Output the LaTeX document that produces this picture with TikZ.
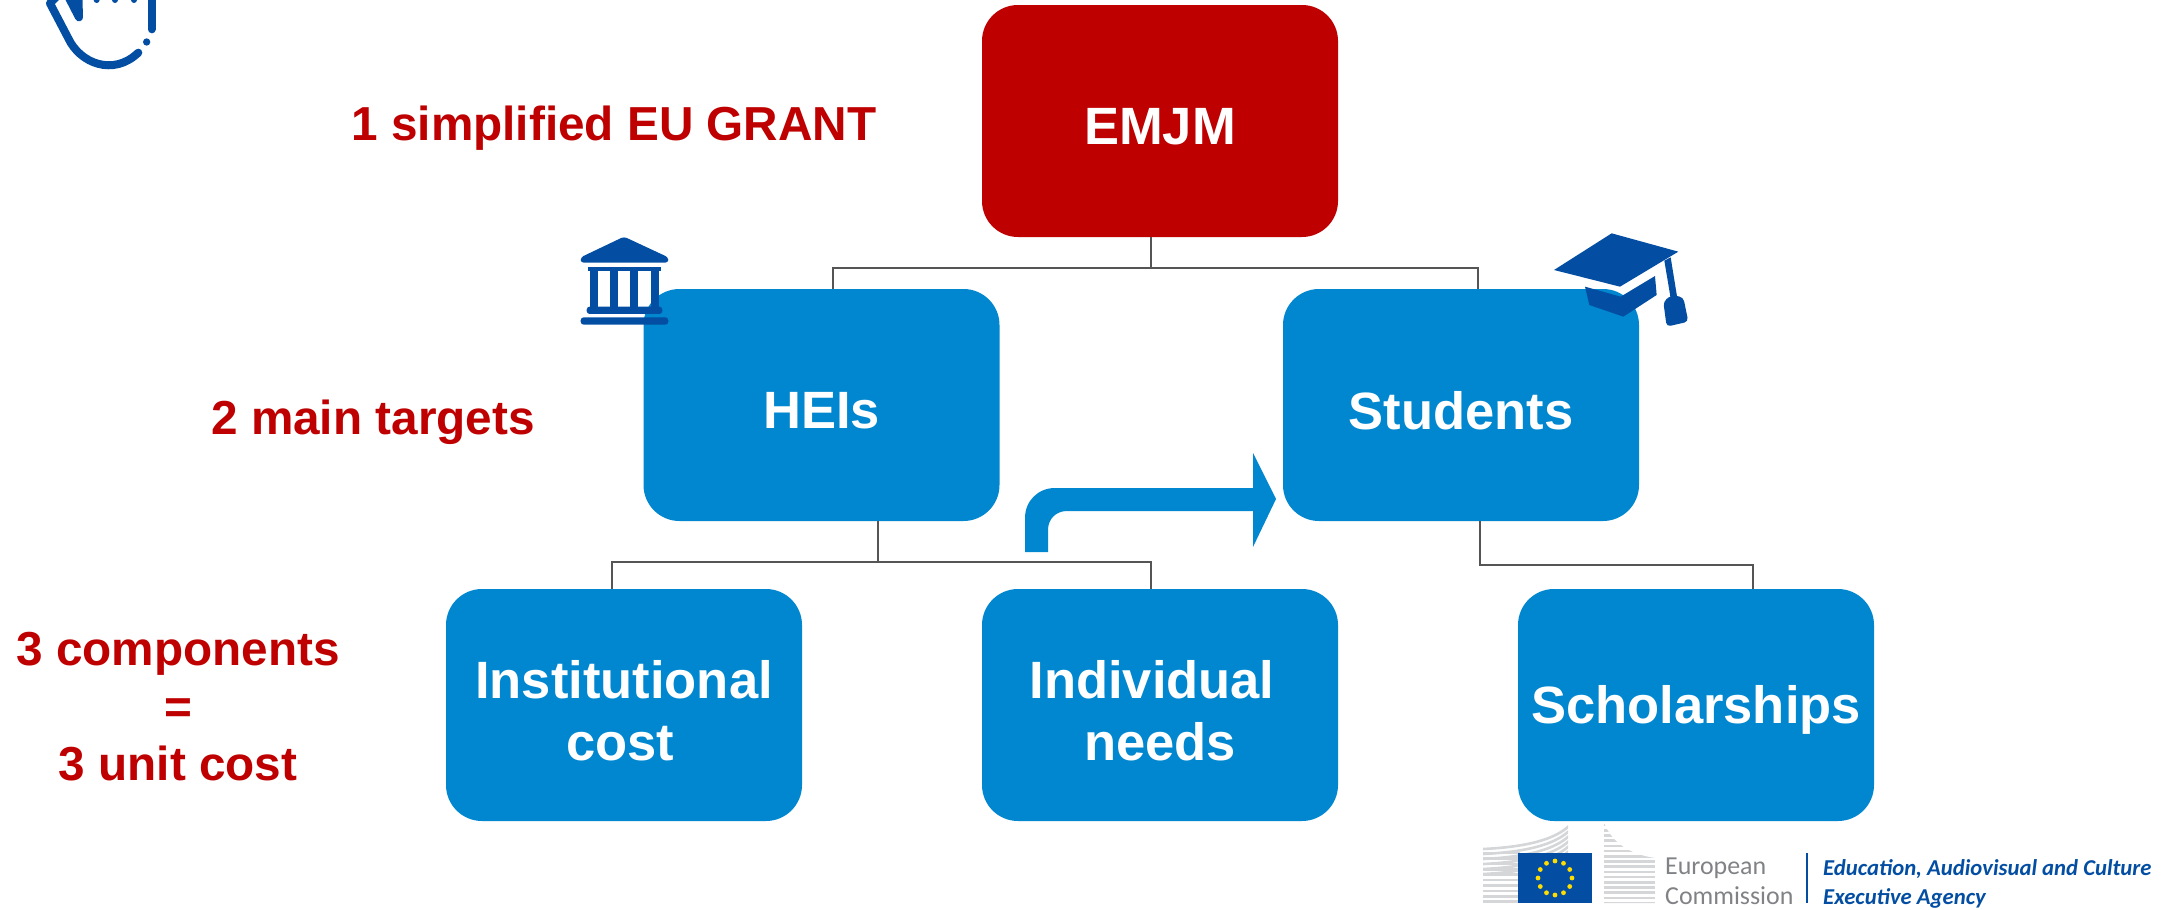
\documentclass[tikz,border=0pt]{standalone}
\usepackage{fontspec}
\setmainfont{Liberation Sans}
\newfontfamily\logofont{Carlito}
\usetikzlibrary{calc}
\definecolor{boxblue}{HTML}{0087CF}
\definecolor{boxred}{HTML}{BE0000}
\definecolor{iconblue}{HTML}{034EA2}
\definecolor{linegray}{HTML}{555555}
\definecolor{flagyellow}{HTML}{FFDD00}
\definecolor{stripegray}{HTML}{D4D6D8}
\definecolor{logogray}{HTML}{808285}
\newcommand{\boxtext}[1]{\raisebox{-11.5pt}[0pt][0pt]{\parbox{350pt}{\centering #1}}}
\tikzset{
  x=1pt,y=-1pt,
  box/.style={fill=boxblue,rounded corners=36pt,minimum width=356pt,minimum height=232pt,inner sep=0pt,text=white,font=\fontsize{52.5}{62}\selectfont\bfseries,align=center},
  redbox/.style={box,fill=boxred},
  lab/.style={text=boxred,font=\fontsize{47.7}{57.5}\selectfont\bfseries,align=center,inner sep=0pt},
  conn/.style={draw=linegray,line width=2pt},
  icon/.style={fill=iconblue,draw=none},
  handline/.style={draw=iconblue,line width=8pt,line cap=round,line join=round},
  logotext/.style={anchor=base west,inner sep=0pt,text=logogray,font=\fontsize{25.9}{28}\selectfont\logofont},
  agencytext/.style={anchor=base west,inner sep=0pt,text=iconblue,font=\fontsize{22.7}{26}\selectfont\logofont\itshape\bfseries},
}
\begin{document}
\begin{tikzpicture}
\useasboundingbox (0,0) rectangle (2169,910);
% boxes
\node[redbox] (emjm) at (1160,121) {\boxtext{EMJM}};
\node[box] (hei) at (821.5,405) {\boxtext{HEIs}};
\node[box] (stu) at (1461,405) {\boxtext{Students}};
\node[box] (inst) at (624,705) {\boxtext{Institutional\\cost\hspace*{8pt}\mbox{}}};
\node[box] (indi) at (1160,705) {\boxtext{Individual\hspace*{16pt}\mbox{}\\needs}};
\node[box] (schol) at (1696,705) {\boxtext{Scholarships}};
% labels
\node[lab] (l1) at (614,128) {1 simplified EU GRANT};
\node[lab] (l2) at (373,422) {2 main targets};
\node[lab] (l3) at (178,707) {3 components\\=\\3 unit cost};
% connectors
\coordinate (ha) at (833,268);
\coordinate (hb) at (1478,268);
\coordinate (ea) at (1151,268);
\coordinate (c1) at (878,562);
\coordinate (c2) at (612,562);
\coordinate (c3) at (1151,562);
\coordinate (s1) at (1480,565);
\coordinate (s2) at (1753,565);
\draw[conn] (emjm.south -| ea) -- (ea);
\draw[conn] (hei.north -| ha) -- (ha) -- (hb) -- (stu.north -| hb);
\draw[conn] (hei.south -| c1) -- (c1);
\draw[conn] (inst.north -| c2) -- (c2) -- (c3) -- (indi.north -| c3);
\draw[conn] (stu.south -| s1) -- (s1) -- (s2) -- (schol.north -| s2);
% bent arrow
\fill[boxblue] (1025,552) -- (1025,518) .. controls (1025,501) and (1038,488) .. (1055,488) -- (1253,488) -- (1253,453) -- (1276,499) -- (1253,547) -- (1253,511) -- (1067,511) .. controls (1056,511) and (1048,519) .. (1048,530) -- (1048,552) -- cycle;
% bank icon
\begin{scope}[shift={(560,220)},x=0.3333pt,y=-0.3333pt]
\fill[icon,rounded corners=3pt] (192,50) -- (325,112) -- (325,128) -- (62,128) -- (62,112) -- cycle;
\fill[icon] (85,140) rectangle (302,152);
\foreach \c/\d in {90/115,150/175,210/235,272/298}{\fill[icon] (\c,150) rectangle (\d,262);}
\fill[icon,rounded corners=3pt] (80,260) rectangle (307,282);
\fill[icon,rounded corners=3pt] (62,292) rectangle (325,314);
\end{scope}
% hat icon
\begin{scope}[shift={(1530,220)},x=0.3333pt,y=-0.3333pt]
\fill[icon] (245,40) -- (445,95) -- (270,200) -- (72,150) -- cycle;
\fill[icon] (165,200) -- (272,230) -- (375,168) -- (380,225) -- (280,290) -- (178,255) -- cycle;
\fill[icon] (403,122) -- (422,112) -- (442,235) -- (422,235) -- cycle;
\fill[icon,rounded corners=4pt] (400,245) -- (425,225) -- (460,232) -- (475,305) -- (410,320) -- cycle;
\end{scope}
% hand icon
\begin{scope}[x=0.3333pt,y=-0.3333pt]
\clip (0,0) rectangle (600,300);
\draw[handline] (190,-30) -- (150,10) -- (205,115) .. controls (240,190) and (340,230) .. (415,158);
\draw[handline] (205,-10) -- (237,52) -- (235,-20);
\draw[handline] (455,-20) -- (455,88);
\fill[icon] (440,126) circle[radius=11];
\foreach \c in {290,345,402}{\fill[icon] (\c,0) circle[radius=9];}
\end{scope}
% logo
\begin{scope}
\clip (1483,847) .. controls (1525,845) and (1555,838) .. (1568,823) -- (1568,853) -- (1518,853) -- (1518,903) -- (1483,903) -- cycle;
\foreach \i in {0,...,5}{
  \draw[stripegray,line width=2.6pt] (1483,{849+\i*5}) .. controls (1525,{847+\i*5}) and (1555,{840+\i*5}) .. (1570,{825+\i*5});
}
\foreach \i in {0,...,9}{
  \draw[stripegray,line width=2.6pt] (1483,{853+\i*5.4}) -- (1520,{853+\i*5.4});
}
\end{scope}
\begin{scope}
\clip (1604,823) .. controls (1612,842) and (1628,854) .. (1655,858) -- (1655,903) -- (1604,903) -- cycle;
\foreach \i in {0,...,15}{
  \draw[stripegray,line width=2.6pt] (1604,{825+\i*5.2}) -- (1655,{825+\i*5.2});
}
\end{scope}
\fill[iconblue] (1518,853) rectangle (1592,903);
\foreach \a in {0,30,...,330}{
  \fill[flagyellow] ({1555+17*cos(\a)},{878+17*sin(\a)}) circle[radius=2.4];
}
\node[logotext] (eu1) at (1665,874) {European};
\node[logotext] (eu2) at (1665,904) {Commission};
\coordinate (b1) at (1807,853);
\coordinate (b2) at (1807,903);
\draw[iconblue,line width=2.5pt] (b1) -- (b2);
\node[agencytext] (ag1) at (1823,875) {Education, Audiovisual and Culture};
\node[agencytext] (ag2) at (1823,904) {Executive Agency};
\end{tikzpicture}
\end{document}
